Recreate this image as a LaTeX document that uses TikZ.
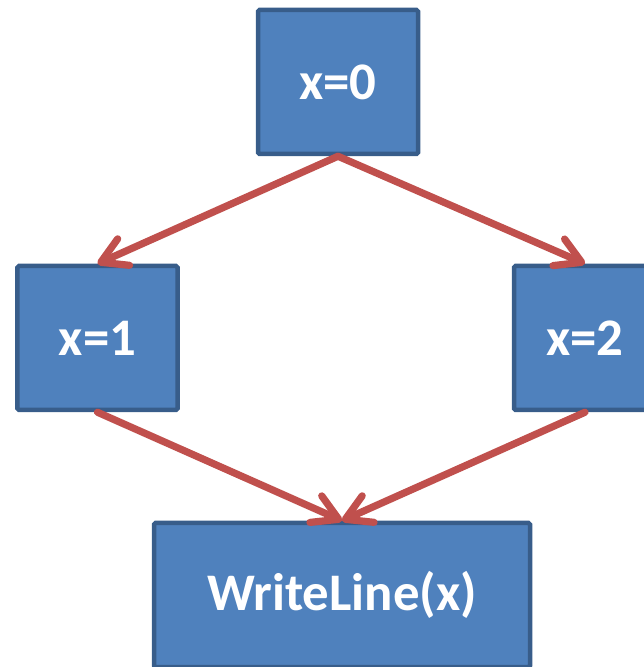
\documentclass[tikz,border=0pt]{standalone}
\usepackage{fontspec}
\setmainfont{Carlito}
\usetikzlibrary{arrows.meta}

\definecolor{boxblue}{HTML}{4F81BD}
\definecolor{boxedge}{HTML}{385D8A}
\definecolor{flowred}{HTML}{C0504D}

\tikzset{
  block/.style={draw=boxedge, fill=boxblue, line width=4.5bp, rounded corners=1.5bp,
    text=white, font=\fontsize{53}{63}\selectfont\bfseries, inner sep=0pt},
  flow/.style={draw=flowred, line width=7.2bp, line cap=round,
    -{Straight Barb[length=25bp,width=29bp,round]}},
}

\begin{document}
\begin{tikzpicture}[x=1bp,y=1bp]
% FRAME =======================================================================
  \clip (0,0) rectangle (644,667);

% BLOCKS ======================================================================
  \node[block, minimum width=160bp, minimum height=144bp] (xzero) at (338,585) {x=0};
  \node[block, minimum width=160bp, minimum height=144bp] (xone)  at (97.5,329) {x=1};
  \node[block, minimum width=142bp, minimum height=144bp] (xtwo)  at (585,329) {x=2};
  \node[block, minimum width=376bp, minimum height=144bp] (write) at (342,72) {WriteLine(x)};

% ARROWS ======================================================================
  \draw[flow] (xzero.south) to (xone.north);
  \draw[flow] (xzero.south) to (xtwo.north);
  \draw[flow] (xone.south) to (write.north);
  \draw[flow] (xtwo.south) to (write.north);

\end{tikzpicture}
\end{document}
